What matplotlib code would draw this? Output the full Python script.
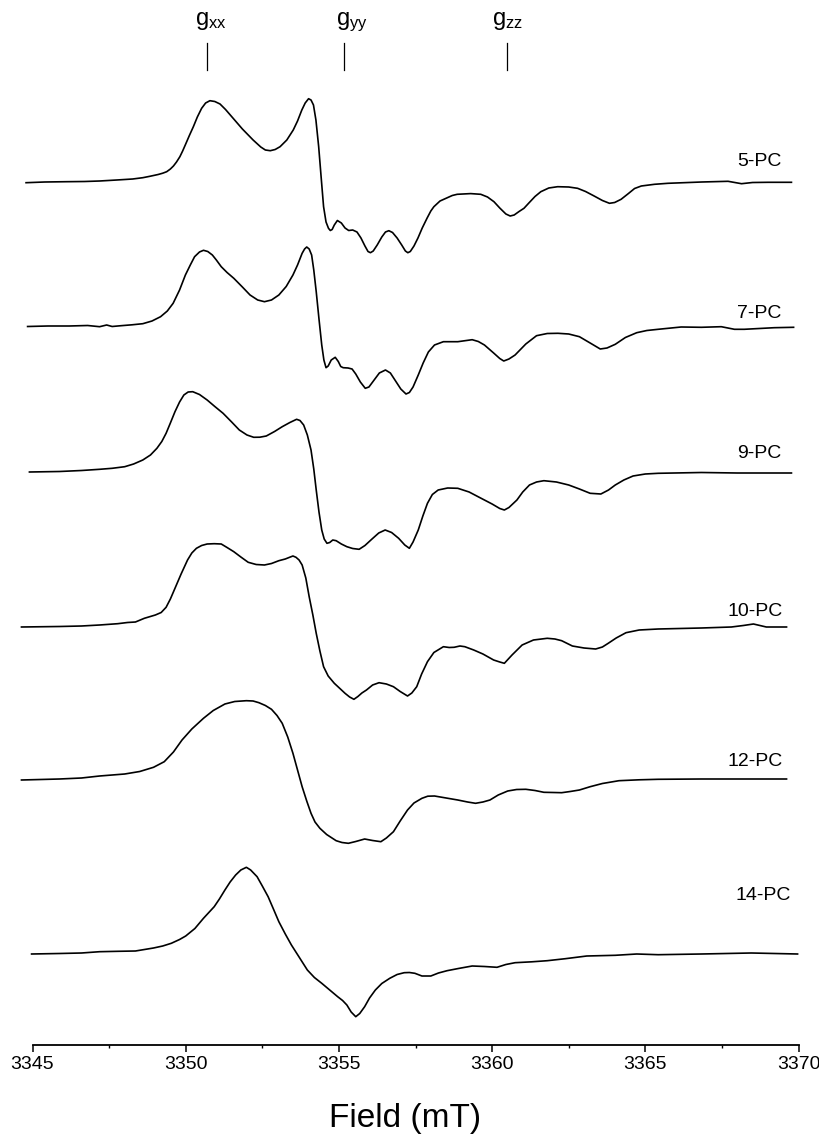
import matplotlib
matplotlib.use("Agg")
import matplotlib.pyplot as plt
import numpy as np

plt.rcParams['font.family'] = ['Liberation Sans', 'DejaVu Sans']
plt.rcParams['mathtext.default'] = 'regular'

# EPR spectra as (field in mT, signal in arb. units, baseline = 0)
names = ["5-PC", "7-PC", "9-PC", "10-PC", "12-PC", "14-PC"]
offsets = [863, 719, 573, 418, 266, 91]

pc5 = [(3344.79, -0.7), (3345.40, 0), (3346.10, 0.3), (3346.70, 0.5), (3347.19, 1),
       (3347.75, 2), (3348.27, 3), (3348.60, 4.3), (3348.83, 5.7), (3349.10, 7.5),
       (3349.25, 8.8), (3349.38, 10.3), (3349.50, 13), (3349.60, 16), (3349.70, 20),
       (3349.81, 25.3), (3349.90, 31), (3350.00, 38), (3350.12, 46.5), (3350.25, 55.3),
       (3350.38, 65), (3350.52, 73.7), (3350.65, 79), (3350.79, 81.3), (3350.95, 80.5),
       (3351.12, 78), (3351.30, 72.5), (3351.54, 64), (3351.85, 53), (3352.20, 42),
       (3352.45, 35), (3352.60, 32), (3352.76, 31.3), (3352.92, 32.5), (3353.08, 35.3),
       (3353.30, 42), (3353.51, 52), (3353.65, 61), (3353.79, 72), (3353.90, 79),
       (3354.01, 83.3), (3354.09, 82), (3354.17, 77), (3354.25, 62), (3354.34, 35.3),
       (3354.42, 5), (3354.50, -24.7), (3354.58, -40), (3354.66, -46.3), (3354.72, -48.5),
       (3354.78, -47.5), (3354.85, -43), (3354.95, -38.5), (3355.08, -41), (3355.20, -46),
       (3355.32, -48.5), (3355.45, -48), (3355.59, -50), (3355.72, -56), (3355.85, -64),
       (3355.95, -69.5), (3356.03, -70.7), (3356.12, -69), (3356.25, -63), (3356.40, -55),
       (3356.52, -50), (3356.63, -48.7), (3356.75, -50.5), (3356.90, -56), (3357.05, -63),
       (3357.17, -69), (3357.25, -70.7), (3357.33, -69.5), (3357.45, -64), (3357.58, -56),
       (3357.72, -46), (3357.88, -36), (3358.00, -29), (3358.10, -24.7), (3358.30, -19),
       (3358.54, -15.7), (3358.70, -13.5), (3358.86, -12.3), (3359.30, -11.6), (3359.63, -12.3),
       (3359.85, -15), (3360.06, -19.7), (3360.25, -26), (3360.45, -32), (3360.59, -34),
       (3360.72, -33), (3360.88, -29.5), (3361.04, -26.3), (3361.20, -21), (3361.40, -14.5),
       (3361.59, -9.7), (3361.85, -6), (3362.14, -4.7), (3362.50, -5), (3362.79, -6.3),
       (3363.05, -9.5), (3363.33, -14), (3363.60, -18.5), (3363.83, -21.3), (3364.00, -20.5),
       (3364.21, -17.3), (3364.45, -11.5), (3364.65, -6.5), (3364.87, -4), (3365.30, -2.3),
       (3365.74, -1.3), (3366.84, 0), (3367.70, 0.7), (3368.14, -1.7), (3368.50, -0.5),
       (3369.01, -0.3), (3369.77, -0.3)]

pc7 = [(3344.84, -0.5), (3345.50, 0), (3346.20, 0), (3346.80, 0.5), (3347.19, -0.7),
       (3347.42, 1), (3347.60, -0.5), (3347.89, 0.3), (3348.25, 1.2), (3348.60, 2.3),
       (3348.90, 5), (3349.18, 9.3), (3349.40, 15), (3349.59, 22.7), (3349.80, 36),
       (3349.99, 51), (3350.15, 61), (3350.29, 69.3), (3350.45, 74), (3350.58, 75.7),
       (3350.72, 74.5), (3350.87, 71), (3351.00, 66), (3351.16, 59.3), (3351.35, 53.5),
       (3351.57, 47.7), (3351.85, 39), (3352.10, 31), (3352.35, 26), (3352.57, 24.3),
       (3352.80, 26), (3353.04, 31), (3353.28, 39.5), (3353.50, 51), (3353.65, 61),
       (3353.80, 72.7), (3353.88, 77), (3353.95, 79), (3354.03, 77), (3354.11, 71),
       (3354.18, 56), (3354.26, 34.3), (3354.35, 7), (3354.44, -19), (3354.51, -34),
       (3354.58, -41.7), (3354.65, -40), (3354.75, -34), (3354.88, -31.3), (3354.98, -35.5),
       (3355.06, -40.5), (3355.14, -41.7), (3355.30, -42), (3355.43, -43), (3355.55, -48),
       (3355.70, -56), (3355.86, -62.3), (3355.98, -61), (3356.15, -54), (3356.32, -47),
       (3356.52, -44), (3356.68, -47), (3356.85, -55), (3357.02, -63), (3357.19, -68),
       (3357.30, -66.5), (3357.42, -61), (3357.59, -49), (3357.75, -37), (3357.92, -26),
       (3358.12, -19), (3358.41, -15.7), (3358.88, -15.7), (3359.35, -13.7), (3359.55, -15.5),
       (3359.75, -19), (3360.05, -27), (3360.25, -32.5), (3360.38, -35), (3360.55, -33),
       (3360.75, -29), (3361.10, -18), (3361.45, -9.7), (3361.80, -7.5), (3362.15, -7.3),
       (3362.50, -8), (3362.85, -10.7), (3363.20, -17), (3363.53, -23), (3363.75, -22),
       (3364.02, -18.3), (3364.35, -11.5), (3364.72, -6.7), (3365.05, -4.5), (3365.42, -3.3),
       (3366.17, -1), (3366.83, -1.3), (3367.48, -0.7), (3367.91, -3.3), (3368.23, -3.3),
       (3369.21, -1.7), (3369.84, -1.3)]

pc9 = [(3344.90, 0), (3345.88, 0.5), (3346.60, 1.5), (3347.19, 2.7), (3347.60, 3.7),
       (3348.01, 5.3), (3348.30, 8), (3348.60, 12), (3348.85, 17), (3349.06, 23.7),
       (3349.22, 30.5), (3349.36, 38.7), (3349.50, 49), (3349.65, 60.3), (3349.80, 70),
       (3349.94, 77), (3350.08, 80), (3350.23, 80.3), (3350.45, 77.5), (3350.70, 72),
       (3350.95, 65.5), (3351.22, 58.7), (3351.50, 50), (3351.75, 42), (3352.00, 37),
       (3352.22, 34.7), (3352.42, 34.8), (3352.63, 36), (3352.90, 40.5), (3353.15, 45.3),
       (3353.40, 49.5), (3353.62, 52.7), (3353.73, 51.5), (3353.85, 47), (3353.97, 37),
       (3354.09, 22), (3354.18, 3), (3354.26, -18), (3354.35, -40), (3354.44, -58),
       (3354.52, -67), (3354.61, -71.3), (3354.70, -70.5), (3354.80, -68), (3354.91, -68.7),
       (3355.08, -72), (3355.26, -74.7), (3355.45, -76.5), (3355.66, -77.3), (3355.85, -73.5),
       (3356.07, -67.3), (3356.30, -61), (3356.51, -58), (3356.72, -60.5), (3356.95, -66.3),
       (3357.15, -73), (3357.30, -76.3), (3357.42, -70), (3357.59, -58), (3357.74, -44),
       (3357.89, -31.3), (3358.05, -22.5), (3358.24, -18), (3358.55, -16), (3358.88, -16.3),
       (3359.25, -20), (3359.58, -25.3), (3360.00, -32), (3360.25, -36.5), (3360.40, -38),
       (3360.55, -35.5), (3360.81, -28), (3361.00, -20), (3361.22, -13), (3361.45, -10),
       (3361.69, -8.7), (3362.10, -10), (3362.50, -13), (3362.85, -17), (3363.20, -21.3),
       (3363.55, -22), (3363.80, -18), (3364.02, -13), (3364.30, -8), (3364.60, -4),
       (3365.00, -2), (3365.42, -1.3), (3366.83, -0.5), (3368.00, -1), (3369.77, -1)]

pc10 = [(3344.64, 0), (3345.88, 0.5), (3346.60, 1), (3347.19, 2), (3347.78, 3.3),
        (3348.10, 4.5), (3348.36, 5), (3348.65, 8.7), (3349.01, 12), (3349.20, 14.5),
        (3349.36, 19.7), (3349.50, 28), (3349.65, 38.7), (3349.85, 53), (3350.06, 67),
        (3350.20, 74), (3350.35, 78.7), (3350.52, 81.5), (3350.70, 83), (3350.93, 83.3),
        (3351.16, 83), (3351.35, 79.5), (3351.57, 75.3), (3351.80, 70), (3352.04, 64.7),
        (3352.30, 62.5), (3352.57, 62), (3352.80, 63.5), (3353.04, 66.3), (3353.25, 68),
        (3353.39, 69.7), (3353.50, 71), (3353.60, 69.7), (3353.70, 67), (3353.80, 62),
        (3353.92, 49), (3354.03, 30.3), (3354.15, 12), (3354.26, -6.3), (3354.38, -24),
        (3354.50, -39.7), (3354.65, -49), (3354.85, -56.3), (3355.05, -62), (3355.20, -66.3),
        (3355.35, -70), (3355.49, -72.3), (3355.62, -69.5), (3355.75, -66), (3355.90, -63),
        (3356.10, -58), (3356.31, -55.7), (3356.55, -57), (3356.78, -59.7), (3357.00, -64.5),
        (3357.24, -69), (3357.38, -66), (3357.54, -59.7), (3357.70, -47), (3357.89, -34.7),
        (3358.10, -25.5), (3358.41, -19.7), (3358.60, -20.5), (3358.76, -20.3), (3358.95, -19),
        (3359.11, -19.7), (3359.40, -23), (3359.70, -27), (3360.05, -33), (3360.25, -35),
        (3360.40, -36.3), (3360.65, -28), (3360.98, -18), (3361.35, -13), (3361.80, -11.3),
        (3362.05, -12), (3362.27, -13.7), (3362.62, -19), (3363.00, -21), (3363.38, -22),
        (3363.60, -20), (3363.79, -16.3), (3364.05, -11), (3364.37, -5.7), (3364.80, -3),
        (3365.42, -2), (3366.83, -1), (3367.81, 0), (3368.20, 1.5), (3368.53, 3),
        (3368.95, 0), (3369.61, 0)]

pc12 = [(3344.64, -1), (3345.88, 0), (3346.60, 1), (3347.19, 3), (3348.01, 5),
        (3348.50, 7.5), (3348.95, 11.7), (3349.30, 17.3), (3349.60, 27), (3349.88, 39),
        (3350.20, 50), (3350.58, 60.7), (3350.90, 68.5), (3351.28, 75), (3351.60, 77.5),
        (3351.98, 78.3), (3352.20, 78), (3352.39, 76.3), (3352.60, 73.5), (3352.80, 69.7),
        (3352.98, 63.5), (3353.15, 55.7), (3353.33, 42), (3353.50, 25.7), (3353.65, 9),
        (3353.80, -7.7), (3353.95, -22), (3354.09, -34.3), (3354.22, -43), (3354.38, -49.3),
        (3354.60, -55.5), (3354.91, -61.7), (3355.10, -63.5), (3355.31, -64.3), (3355.55, -62.5),
        (3355.84, -60), (3356.10, -61.5), (3356.37, -62.7), (3356.55, -59), (3356.78, -52.7),
        (3357.00, -42), (3357.24, -31), (3357.45, -24), (3357.71, -19.3), (3357.90, -17.2),
        (3358.12, -17), (3358.50, -19), (3358.88, -21), (3359.20, -23), (3359.46, -24.3),
        (3359.70, -23), (3359.93, -21), (3360.20, -16), (3360.51, -12), (3360.80, -10.5),
        (3361.10, -10.3), (3361.40, -11.5), (3361.69, -13.3), (3362.00, -13.5), (3362.27, -13.7),
        (3362.55, -12.5), (3362.85, -11), (3363.20, -7.7), (3363.60, -4.5), (3364.14, -1.7),
        (3364.80, -0.8), (3365.42, -0.3), (3366.83, 0), (3369.61, 0)]

pc14 = [(3344.97, 0), (3345.88, 0.5), (3346.60, 1), (3347.19, 2.3), (3347.80, 2.7),
        (3348.36, 3), (3348.95, 6), (3349.25, 8), (3349.53, 10.7), (3349.80, 14.5),
        (3350.00, 18), (3350.30, 25.5), (3350.58, 35.7), (3350.93, 47.3), (3351.10, 55),
        (3351.28, 64), (3351.45, 72), (3351.63, 79), (3351.80, 84), (3351.98, 86.7),
        (3352.12, 84), (3352.33, 77.3), (3352.50, 68), (3352.69, 57.3), (3352.87, 44.5),
        (3353.04, 32.3), (3353.25, 20), (3353.45, 9), (3353.70, -3), (3353.97, -16),
        (3354.20, -23.5), (3354.44, -29.3), (3354.70, -36), (3354.96, -42.7), (3355.12, -46.5),
        (3355.26, -51), (3355.40, -58), (3355.55, -62.7), (3355.68, -59.5), (3355.84, -52.7),
        (3356.00, -44), (3356.19, -36), (3356.40, -29.5), (3356.66, -24.3), (3356.90, -20.5),
        (3357.13, -18.7), (3357.30, -18.5), (3357.48, -19.3), (3357.71, -22), (3358.00, -22),
        (3358.25, -19), (3358.53, -16.7), (3358.90, -14.5), (3359.35, -12), (3359.75, -12.5),
        (3360.16, -13.3), (3360.45, -10.5), (3360.75, -8.7), (3361.30, -7.8), (3361.80, -6.7),
        (3362.39, -4.7), (3363.09, -2), (3364.02, -1.3), (3364.72, 0), (3365.42, -0.7),
        (3366.83, 0), (3368.46, 1), (3369.97, 0)]

spectra = [pc5, pc7, pc9, pc10, pc12, pc14]

# label placement (field of the right edge, height above the axis line)
label_x = [3369.45, 3369.45, 3369.45, 3369.5, 3369.5, 3369.75]
label_y = [884, 732, 592, 433, 283, 150]

g_names = ["g$_{xx}$", "g$_{yy}$", "g$_{zz}$"]
g_field = [3350.68, 3355.18, 3360.48]
g_text_x = [3350.30, 3354.90, 3360.00]

fig = plt.figure(figsize=(8.19, 11.34), dpi=100)
ax = fig.add_axes([32.5 / 819, 89 / 1134, 766 / 819, 1045 / 1134])
ax.set_xlim(3345, 3370)
ax.set_ylim(0, 1045)

for spec, off in zip(spectra, offsets):
    field, sig = zip(*spec)
    ax.plot(field, np.array(sig) + off, color='black', lw=1.2, clip_on=False)

for name, x, y in zip(names, label_x, label_y):
    ax.text(x, y, name, ha='right', va='center', fontsize=14, clip_on=False)

for name, gf, gx in zip(g_names, g_field, g_text_x):
    ax.plot([gf, gf], [975, 1002], color='black', lw=0.9)
    ax.text(gx, 1020, name, ha='left', va='baseline', fontsize=17)

for side in ['left', 'right', 'top']:
    ax.spines[side].set_visible(False)
ax.spines['bottom'].set_linewidth(1.3)
ax.set_yticks([])
ax.set_xticks(np.arange(3345, 3371, 5))
ax.set_xticks(np.arange(3347.5, 3370, 5), minor=True)
ax.tick_params(axis='x', which='major', direction='out', length=5, width=1.1,
               labelsize=14, pad=3)
ax.tick_params(axis='x', which='minor', direction='out', length=2.5, width=1.0)

fig.text(405 / 819, 7 / 1134, "Field (mT)", ha='center', va='baseline', fontsize=24)

fig.savefig("out.png", dpi=100)
